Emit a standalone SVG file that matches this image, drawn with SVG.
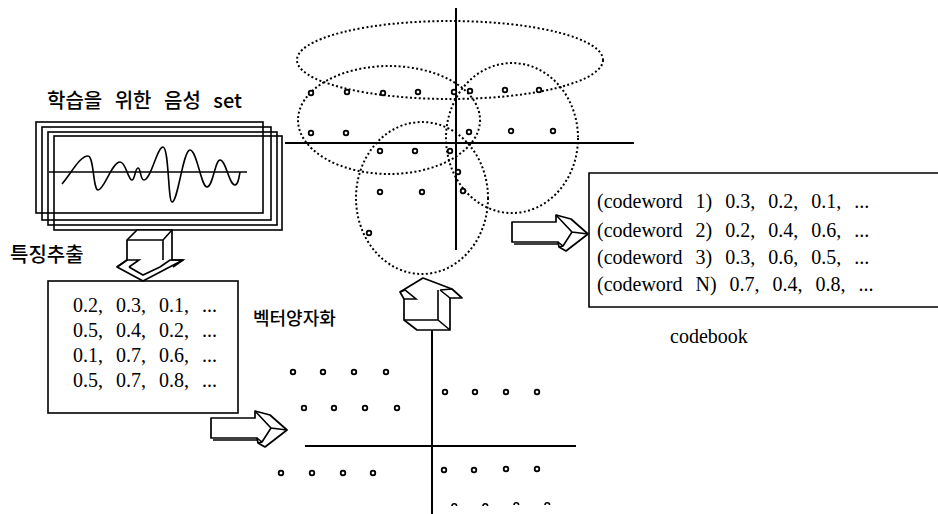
<svg xmlns="http://www.w3.org/2000/svg" xmlns:xlink="http://www.w3.org/1999/xlink" width="938" height="514" viewBox="0 0 938 514">
<style>
.ln{fill:none;stroke:#000;stroke-width:1.6}
.ax{fill:none;stroke:#000;stroke-width:2}
.dot{fill:#fff;stroke:#000;stroke-width:1.8}
.dash{fill:none;stroke:#000;stroke-width:2;stroke-dasharray:2 2.4}
.arr{fill:#fff;stroke:#000;stroke-width:1.7;stroke-linejoin:round}
.ser{font-family:"Liberation Serif","Times New Roman",serif;font-size:20px;fill:#000;word-spacing:8px}
.kr{font-family:"Noto Sans CJK KR","Noto Sans",sans-serif;fill:#000;font-weight:500}
</style>
<defs>
<g id="rarrow">
<path class="arr" d="M0,0 L44,0 L44,-7 L59,-3 L76,12 L54,29 L47,25 L46,20 L0,20 Z"/>
<path class="ln" d="M44,-7 L60,10 L76,12 M60,10 L51,24 L47,25 M46,20 L51,24 M2,22 L46,22"/>
</g>
<circle id="d" r="2.3" class="dot"/>
</defs>

<g id="speech-set">
<text class="kr" x="47" y="108" font-size="20" word-spacing="8">학습을 위한 음성 set</text>
<rect class="ln" x="36" y="122" width="227" height="91"/>
<rect class="ln" x="42" y="127" width="229" height="93"/>
<rect class="ln" x="48" y="132" width="229" height="93"/>
<rect class="ln" x="54" y="136" width="228" height="94"/>
<line class="ln" x1="49" y1="172" x2="247" y2="172"/>
<path class="ln" stroke-width="2" d="M62,184 C72,172 80,156 88,156 C94,156 93,190 98,190 C104,190 112,162 120,162 C126,162 128,180 132,180 C135,180 135,168 138,168 C141,168 140,180 144,180 C151,180 157,147 163,147 C169,147 168,202 172,202 C178,202 183,150 190,150 C197,150 201,187 207,187 C213,187 215,160 220,160 C226,160 229,185 235,185 C238,185 239,178 240,172"/>
</g>

<g id="feature-label">
<text class="kr" x="10" y="262" font-size="20" font-weight="700">특징추출</text>
</g>

<g id="feature-vectors">
<rect class="ln" x="48" y="281" width="190" height="132"/>
<text class="ser" x="73" y="312" word-spacing="7">0.2, 0.3, 0.1, ...</text>
<text class="ser" x="73" y="337" word-spacing="7">0.5, 0.4, 0.2, ...</text>
<text class="ser" x="73" y="362" word-spacing="7">0.1, 0.7, 0.6, ...</text>
<text class="ser" x="73" y="387" word-spacing="7">0.5, 0.7, 0.8, ...</text>
</g>

<g id="vq-label">
<text class="kr" x="253" y="325" font-size="18" font-weight="700">벡터양자화</text>
</g>

<g id="scatter">
<line class="ax" x1="305" y1="446" x2="576" y2="446"/>
<line class="ax" x1="432" y1="330" x2="432" y2="514"/>
<use xlink:href="#d" x="293" y="372"/><use xlink:href="#d" x="323" y="372"/><use xlink:href="#d" x="354" y="372"/><use xlink:href="#d" x="386" y="372"/>
<use xlink:href="#d" x="304" y="408"/><use xlink:href="#d" x="334" y="408"/><use xlink:href="#d" x="365" y="408"/><use xlink:href="#d" x="397" y="408"/>
<use xlink:href="#d" x="445" y="392"/><use xlink:href="#d" x="475" y="392"/><use xlink:href="#d" x="506" y="392"/><use xlink:href="#d" x="537" y="392"/>
<use xlink:href="#d" x="281" y="473"/><use xlink:href="#d" x="312" y="473"/><use xlink:href="#d" x="343" y="473"/><use xlink:href="#d" x="373" y="473"/>
<use xlink:href="#d" x="444" y="470"/><use xlink:href="#d" x="474" y="470"/><use xlink:href="#d" x="506" y="469"/><use xlink:href="#d" x="537" y="469"/>
<path class="ln" stroke-width="1.6" d="M452,506 a2.3,2.3 0 0 1 4.6,0 M483,506 a2.3,2.3 0 0 1 4.6,0 M514,505 a2.3,2.3 0 0 1 4.6,0 M545,505 a2.3,2.3 0 0 1 4.6,0"/>
</g>

<g id="clusters">
<line class="ax" x1="456" y1="8" x2="456" y2="250"/>
<line class="ax" x1="285" y1="143" x2="634" y2="143"/>
<ellipse class="dash" cx="450" cy="60" rx="153" ry="39"/>
<ellipse class="dash" cx="389" cy="120" rx="91" ry="54"/>
<ellipse class="dash" cx="512" cy="138" rx="66" ry="75"/>
<ellipse class="dash" cx="422" cy="198" rx="66" ry="76"/>
<use xlink:href="#d" x="311" y="93"/><use xlink:href="#d" x="347" y="92"/><use xlink:href="#d" x="383" y="93"/><use xlink:href="#d" x="418" y="92"/><use xlink:href="#d" x="454" y="92"/><use xlink:href="#d" x="470" y="91"/><use xlink:href="#d" x="505" y="90"/><use xlink:href="#d" x="539" y="90"/>
<use xlink:href="#d" x="311" y="133"/><use xlink:href="#d" x="346" y="133"/><use xlink:href="#d" x="469" y="132"/><use xlink:href="#d" x="511" y="131"/><use xlink:href="#d" x="553" y="131"/>
<use xlink:href="#d" x="380" y="151"/><use xlink:href="#d" x="415" y="151"/><use xlink:href="#d" x="450" y="151"/>
<use xlink:href="#d" x="458" y="172"/><use xlink:href="#d" x="380" y="192"/><use xlink:href="#d" x="422" y="192"/><use xlink:href="#d" x="463" y="191"/><use xlink:href="#d" x="369" y="233"/>
</g>

<g id="codebook">
<path class="ln" d="M940,173 L589,173 L589,307 L940,307"/>
<text class="ser" x="597" y="208">(codeword 1) 0.3, 0.2, 0.1, ...</text>
<text class="ser" x="597" y="237">(codeword 2) 0.2, 0.4, 0.6, ...</text>
<text class="ser" x="597" y="264">(codeword 3) 0.3, 0.6, 0.5, ...</text>
<text class="ser" x="597" y="291">(codeword N) 0.7, 0.4, 0.8, ...</text>
<text class="ser" x="670" y="343" word-spacing="0">codebook</text>
</g>

<g id="connectors">
<g id="arrow-down">
<path class="arr" d="M127,240 L137,230 L172,230 L172,260 L183,260 L143,281 L117,267 L127,260 Z"/>
<path class="ln" d="M127,240 L163,240 L172,230 M163,240 L163,260 M117,267 L127,260 L139,260 L129,267 M160,267 L170,260 L183,260 L173,267 M129,267 L143,275 L160,267"/>
</g>
<use id="arrow-right-1" xlink:href="#rarrow" x="211" y="418"/>
<use id="arrow-right-2" xlink:href="#rarrow" x="512" y="222"/>
<g id="arrow-up">
<path class="arr" d="M400,292 L423,278 L452,289 L462,298 L450,298 L450,330 L417,330 L404,320 L404,299 Z"/>
<path class="ln" d="M400,292 L405,290 L416,299 L404,299 M440,290 L452,289 M440,290 L450,298 M438,290 L438,320 L404,320 M438,320 L450,330"/>
</g>
</g>
</svg>
